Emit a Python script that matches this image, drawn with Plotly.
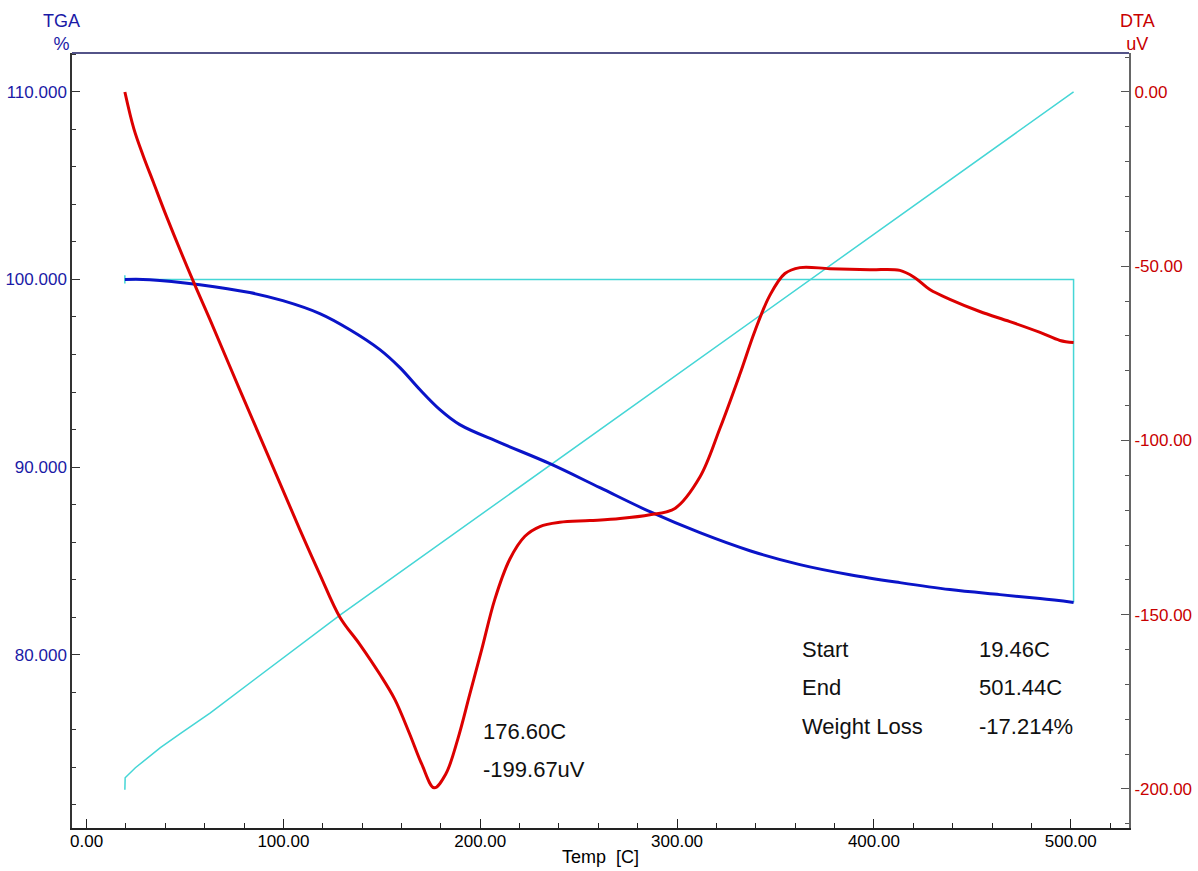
import plotly.graph_objects as go

# ---- data ----
temp_tga = [19.46, 32.1, 57.5, 82.9, 99.7, 118.5, 133.8, 149.0, 159.2, 169.3, 179.5,
            189.6, 210.0, 235.4, 260.8, 286.2, 311.6, 337.0, 362.4, 387.8, 413.2,
            438.6, 464.0, 484.4, 501.44]
tga = [100.0, 99.99, 99.72, 99.30, 98.87, 98.18, 97.32, 96.26, 95.30, 94.13, 93.06,
       92.26, 91.30, 90.18, 88.90, 87.62, 86.50, 85.54, 84.80, 84.26, 83.84,
       83.47, 83.20, 82.99, 82.786]

temp_dta = [19.46, 24.0, 28.7, 34.0, 40.6, 53.8, 62.6, 77.8, 93.1, 108.3, 118.5, 128.7,
            138.8, 149.0, 156.6, 164.2, 170.3, 176.6, 182.5, 188.6, 194.7, 200.8, 207.4,
            215.0, 222.7, 230.3, 240.4, 255.7, 271.0, 286.2, 298.9, 311.6, 321.8,
            331.9, 339.6, 347.2, 354.8, 362.4, 377.6, 398.0, 413.2, 420.8, 428.4,
            438.6, 453.8, 469.1, 484.4, 494.5, 501.44]
dta = [0.0, -10.5, -18.2, -26.0, -35.7, -53.8, -65.2, -85.4, -105.5, -125.5, -138.4, -150.7,
       -158.5, -167.1, -174.3, -184.3, -192.9, -199.67, -195.7, -185.7, -172.8, -159.9, -145.6,
       -134.1, -127.5, -124.7, -123.5, -123.0, -122.4, -121.3, -119.5, -110.5, -96.5,
       -81.0, -68.5, -58.3, -52.1, -50.4, -50.7, -51.0, -51.2, -53.3, -56.7,
       -59.5, -63.0, -65.9, -69.0, -71.3, -71.9]

# temperature program trace (drawn on TGA scale)
temp_prog_x = [19.46, 19.6, 24.8, 29.8, 37.5, 47.6, 62.9, 128.9, 501.44]
temp_prog_y = [72.8, 73.44, 73.97, 74.4, 75.04, 75.79, 76.9, 82.12, 110.0]

# weight-loss bracket
wl_start, wl_end = 19.46, 501.44
wl_top, wl_bottom = 100.0, 82.786

x_ticks = [0, 100, 200, 300, 400, 500]
x_labels = ["0.00", "100.00", "200.00", "300.00", "400.00", "500.00"]
tga_ticks = [80, 90, 100, 110]
tga_labels = ["80.000", "90.000", "100.000", "110.000"]
dta_ticks = [0, -50, -100, -150, -200]
dta_labels = ["0.00", "-50.00", "-100.00", "-150.00", "-200.00"]

FONT = "Arial, Liberation Sans, sans-serif"
BLUE = "#0a14c8"
RED = "#dc0000"
CYAN = "#45d6d6"
NAVY_TXT = "#1a1aa6"
RED_TXT = "#c80000"

fig = go.Figure()

fig.add_trace(go.Scatter(x=temp_prog_x, y=temp_prog_y, mode="lines",
                         line=dict(color=CYAN, width=1.5), yaxis="y", hoverinfo="skip"))
fig.add_trace(go.Scatter(x=[wl_start, wl_end, wl_end], y=[wl_top, wl_top, wl_bottom],
                         mode="lines", line=dict(color=CYAN, width=1.5), yaxis="y",
                         hoverinfo="skip"))
fig.add_trace(go.Scatter(x=[wl_start, wl_start], y=[wl_top + 0.22, wl_top - 0.22],
                         mode="lines", line=dict(color=CYAN, width=1.5), yaxis="y",
                         hoverinfo="skip"))
fig.add_trace(go.Scatter(x=temp_tga, y=tga, mode="lines", line=dict(color=BLUE, width=3),
                         line_shape="spline", yaxis="y"))
fig.add_trace(go.Scatter(x=temp_dta, y=dta, mode="lines", line=dict(color=RED, width=3),
                         line_shape="spline", yaxis="y2"))

fig.update_layout(
    width=1198, height=871,
    margin=dict(l=72, r=69, t=53, b=43, autoexpand=False),
    paper_bgcolor="white", plot_bgcolor="white",
    showlegend=False,
    font=dict(family=FONT, size=17, color="black"),
    xaxis=dict(range=[-7.4, 529.6], tickvals=x_ticks, ticktext=x_labels,
               automargin=False, ticklabelstandoff=-3,
               showgrid=False, zeroline=False, showline=True, linecolor="#222",
               linewidth=1.5, ticks="inside", ticklen=9, tickcolor="#222",
               minor=dict(dtick=20, ticks="inside", ticklen=5, tickcolor="#222"),
               tickfont=dict(size=17, color="black"),
               title=dict(text="Temp  [C]", font=dict(size=18), standoff=0)),
    yaxis=dict(range=[70.76, 112.07], tickvals=tga_ticks, ticktext=tga_labels,
               automargin=False,
               showgrid=False, zeroline=False, showline=True, linecolor="#333",
               linewidth=1.5, ticks="inside", ticklen=8, tickcolor="#333",
               minor=dict(dtick=2, ticks="inside", ticklen=4, tickcolor="#333"),
               tickfont=dict(size=17, color=NAVY_TXT)),
    yaxis2=dict(range=[-211.2, 11.18], tickvals=dta_ticks, ticktext=dta_labels,
                overlaying="y", side="right", automargin=False,
                showgrid=False, zeroline=False, showline=True, linecolor="#666",
                linewidth=2, ticks="inside", ticklen=8, tickcolor="#555",
                minor=dict(dtick=10, ticks="inside", ticklen=4, tickcolor="#555"),
                tickfont=dict(size=17, color=RED_TXT)),
)

# top frame line
fig.add_shape(type="line", xref="paper", yref="paper", x0=0, x1=1, y0=1, y1=1,
              line=dict(color="#1a1a60", width=1.5))

# axis titles
fig.add_annotation(text="TGA<br>%", xref="paper", yref="paper", x=-0.0095, y=1.0,
                   xanchor="center", yanchor="bottom", yshift=-3, showarrow=False,
                   font=dict(size=18, color=NAVY_TXT), align="center")
fig.add_annotation(text="DTA<br>uV", xref="paper", yref="paper", x=1.0085, y=1.0,
                   xanchor="center", yanchor="bottom", yshift=-3, showarrow=False,
                   font=dict(size=18, color=RED_TXT), align="center")

# peak annotation
fig.add_annotation(text="176.60C", x=200.5, y=-183.5, yref="y2", xanchor="left",
                   showarrow=False, font=dict(size=22, color="#111"))
fig.add_annotation(text="-199.67uV", x=200.5, y=-194.5, yref="y2", xanchor="left",
                   showarrow=False, font=dict(size=22, color="#111"))

# weight loss table
rows = [("Start", "19.46C", -159.9), ("End", "501.44C", -170.8),
        ("Weight Loss", "-17.214%", -182.0)]
for lab, val, yy in rows:
    fig.add_annotation(text=lab, x=362.4, y=yy, yref="y2", xanchor="left",
                       showarrow=False, font=dict(size=22, color="#111"))
    fig.add_annotation(text=val, x=452.4, y=yy, yref="y2", xanchor="left",
                       showarrow=False, font=dict(size=22, color="#111"))

fig.write_html(
    "out.html",
    config={"displayModeBar": False},
    post_script="document.body.style.margin='0';document.body.style.padding='0';"
                "document.body.style.overflow='hidden';",
)
